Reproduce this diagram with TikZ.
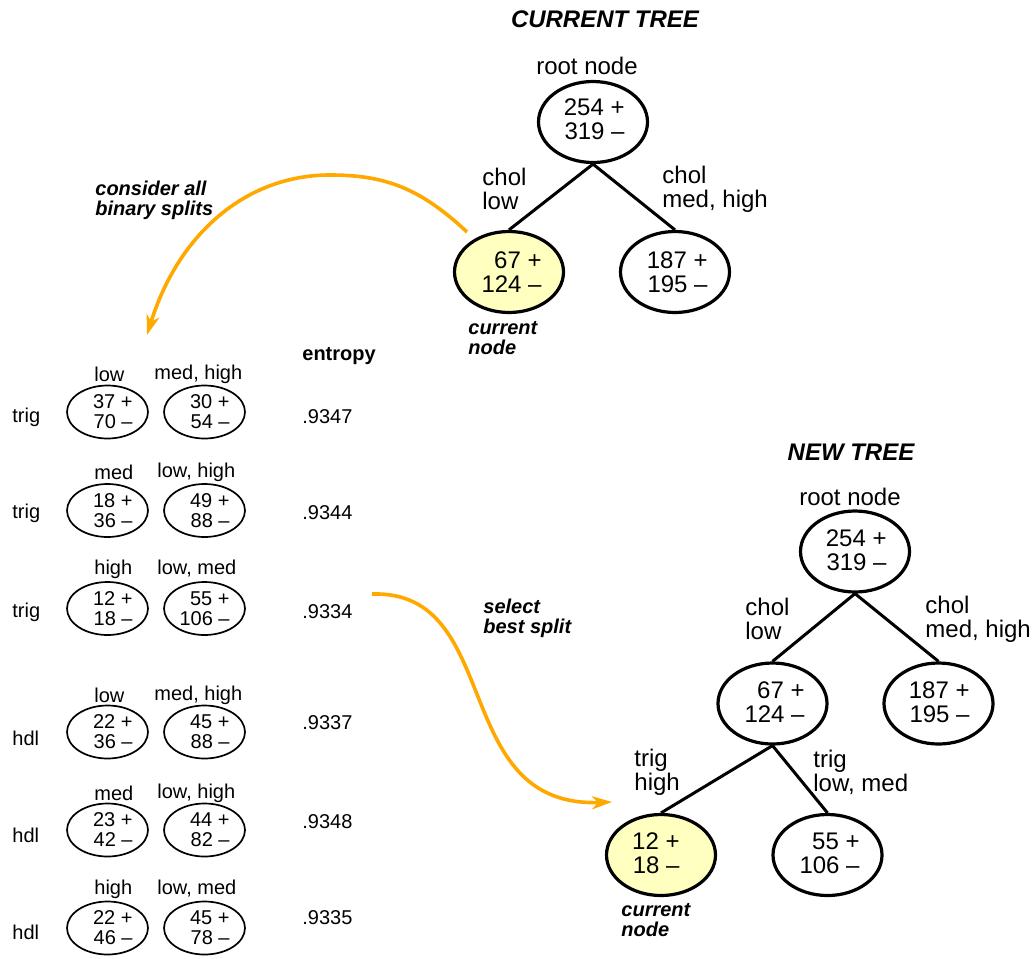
\documentclass[tikz,border=0pt]{standalone}
\usepackage{fontspec}
\setmainfont{Liberation Sans}
\usetikzlibrary{arrows.meta,calc,shapes.geometric}
\definecolor{floworange}{RGB}{255,168,0}
\definecolor{curfill}{RGB}{255,255,192}
\begin{document}
\begin{tikzpicture}[x=0.5pt,y=-0.5pt,
  bigell/.style={ellipse, draw, line width=1.6pt, minimum width=54.5pt, minimum height=40.5pt, inner sep=0pt},
  curell/.style={bigell, fill=curfill},
  smallell/.style={ellipse, draw, line width=0.85pt, minimum width=40.5pt, minimum height=26.5pt, inner sep=0pt},
  bignum/.style={anchor=east, align=right, inner sep=0pt, font=\fontsize{12}{12}\selectfont},
  smallnum/.style={anchor=east, align=right, inner sep=0pt, font=\fontsize{10}{10}\selectfont},
  splitlbl/.style={anchor=west, align=left, inner sep=0pt, font=\fontsize{12}{12}\selectfont},
  plain/.style={inner sep=0pt, font=\fontsize{12}{12}\selectfont},
  small/.style={anchor=west, inner sep=0pt, font=\fontsize{10}{10}\selectfont},
  treetitle/.style={inner sep=0pt, font=\fontsize{12}{12}\selectfont\bfseries\itshape},
  remark/.style={anchor=west, align=left, inner sep=0pt, font=\fontsize{10}{10}\selectfont\bfseries\itshape},
  branch/.style={line width=1.5pt},
  flow/.style={draw=floworange, line width=1.8pt, -{Stealth[length=10pt,width=6.5pt,inset=3pt]}},
]
\useasboundingbox (0,0) rectangle (1032,958);

% ---------- current tree ----------
\node[treetitle] (ctitle) at (605,19) {CURRENT TREE};
\node[plain] (croot lbl) at (587,66) {root node};
\node[bigell] (croot) at (593,122) {};
\node[bignum] (croot t) at ($(croot)+(32,-3)$) {254 +\\319 –};
\node[curell] (ccur) at (509,272) {};
\node[bignum] (ccur t) at ($(ccur)+(33,0)$) {67 +\\124 –};
\node[bigell] (cright) at (675,272) {};
\node[bignum] (cright t) at ($(cright)+(33,0)$) {187 +\\195 –};
\draw[branch] (croot.south) -- (ccur.north);
\draw[branch] (croot.south) -- (cright.north);
\node[splitlbl] (cl lbl) at (482,189) {chol\\low};
\node[splitlbl] (cr lbl) at (662,189) {chol\\med, high};
\node[remark] (ccur note) at (468,338) {current\\node};

% ---------- new tree ----------
\node[treetitle] (ntitle) at (851,452) {NEW TREE};
\node[plain] (nroot lbl) at (850,497) {root node};
\node[bigell] (nroot) at (855,551.5) {};
\node[bignum] (nroot t) at ($(nroot)+(32,-1)$) {254 +\\319 –};
\node[bigell] (nmid) at (772.5,703.5) {};
\node[bignum] (nmid t) at ($(nmid)+(32.5,-1)$) {67 +\\124 –};
\node[bigell] (nright) at (938.5,703.5) {};
\node[bignum] (nright t) at ($(nright)+(31.5,-1)$) {187 +\\195 –};
\node[curell] (ncur) at (661,855) {};
\node[bignum] (ncur t) at ($(ncur)+(19,-1.5)$) {12 +\\18 –};
\node[bigell] (nlow) at (827.5,855) {};
\node[bignum] (nlow t) at ($(nlow)+(32.5,-1.5)$) {55 +\\106 –};
\draw[branch] (nroot.south) -- (nmid.north);
\draw[branch] (nroot.south) -- (nright.north);
\draw[branch] (nmid.south) -- (ncur.north);
\draw[branch] (nmid.south) -- (nlow.north);
\node[splitlbl] (nl lbl) at (745,619) {chol\\low};
\node[splitlbl] (nr lbl) at (925,619) {chol\\med, high};
\node[splitlbl] (tl lbl) at (634,772) {trig\\high};
\node[splitlbl] (tr lbl) at (813,772) {trig\\low, med};
\node[remark] (ncur note) at (621,920) {current\\node};

% ---------- candidate splits ----------
\node[small, font=\fontsize{10}{10}\selectfont\bfseries] (entropy) at (302,356) {entropy};

% trig: low | med, high
\node[small] (r1 attr) at (12,417) {trig};
\node[small] (r1 ha) at (94,374) {low};
\node[small] (r1 hb) at (154,374) {med, high};
\node[smallell] (r1a) at (107.5,412) {};
\node[smallnum] at ($(r1a)+(25.5,0)$) {37 +\\70 –};
\node[smallell] (r1b) at (204.5,412) {};
\node[smallnum] at ($(r1b)+(25.5,0)$) {30 +\\54 –};
\node[small] (r1 e) at (302,417) {.9347};

% trig: med | low, high
\node[small] (r2 attr) at (12,513) {trig};
\node[small] (r2 ha) at (94,472) {med};
\node[small] (r2 hb) at (157,472) {low, high};
\node[smallell] (r2a) at (107.5,510.5) {};
\node[smallnum] at ($(r2a)+(25.5,0)$) {18 +\\36 –};
\node[smallell] (r2b) at (204.5,510.5) {};
\node[smallnum] at ($(r2b)+(25.5,0)$) {49 +\\88 –};
\node[small] (r2 e) at (302,513) {.9344};

% trig: high | low, med
\node[small] (r3 attr) at (12,612) {trig};
\node[small] (r3 ha) at (94,569) {high};
\node[small] (r3 hb) at (157,569) {low, med};
\node[smallell] (r3a) at (107.5,608.5) {};
\node[smallnum] at ($(r3a)+(25.5,0)$) {12 +\\18 –};
\node[smallell] (r3b) at (204.5,608.5) {};
\node[smallnum] at ($(r3b)+(25.5,0)$) {55 +\\106 –};
\node[small] (r3 e) at (302,612) {.9334};

% hdl: low | med, high
\node[small] (r4 attr) at (12,738) {hdl};
\node[small] (r4 ha) at (94,695) {low};
\node[small] (r4 hb) at (154,695) {med, high};
\node[smallell] (r4a) at (107.5,732) {};
\node[smallnum] at ($(r4a)+(25.5,0)$) {22 +\\36 –};
\node[smallell] (r4b) at (204.5,732) {};
\node[smallnum] at ($(r4b)+(25.5,0)$) {45 +\\88 –};
\node[small] (r4 e) at (302,723) {.9337};

% hdl: med | low, high
\node[small] (r5 attr) at (12,835) {hdl};
\node[small] (r5 ha) at (94,793) {med};
\node[small] (r5 hb) at (157,793) {low, high};
\node[smallell] (r5a) at (107.5,830) {};
\node[smallnum] at ($(r5a)+(25.5,0)$) {23 +\\42 –};
\node[smallell] (r5b) at (204.5,830) {};
\node[smallnum] at ($(r5b)+(25.5,0)$) {44 +\\82 –};
\node[small] (r5 e) at (302,822) {.9348};

% hdl: high | low, med
\node[small] (r6 attr) at (12,932) {hdl};
\node[small] (r6 ha) at (94,889) {high};
\node[small] (r6 hb) at (157,889) {low, med};
\node[smallell] (r6a) at (107.5,928) {};
\node[smallnum] at ($(r6a)+(25.5,0)$) {22 +\\46 –};
\node[smallell] (r6b) at (204.5,928) {};
\node[smallnum] at ($(r6b)+(25.5,0)$) {45 +\\78 –};
\node[small] (r6 e) at (302,918) {.9335};

% ---------- process arrows ----------
\node[remark] (consider) at (95,200) {consider all\\binary splits};
\coordinate (splits start) at (467,232);
\coordinate (splits end) at (147,335);
\draw[flow] (splits start) .. controls (420,188) and (385,175) .. (330,175)
  .. controls (245,175) and (178,235) .. (splits end);

\node[remark] (select) at (483,618) {select\\best split};
\coordinate (best start) at (372,594);
\coordinate (best end) at (612,802);
\draw[flow] (best start) .. controls (505,590) and (448,808) .. (best end);
\end{tikzpicture}
\end{document}
